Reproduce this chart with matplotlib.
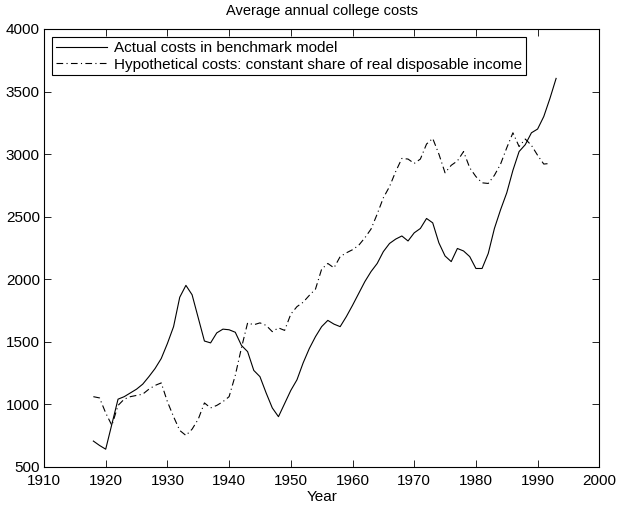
import numpy as np
import matplotlib
matplotlib.use("Agg")
from matplotlib import pyplot as plt

plt.rcParams['font.family'] = ['Liberation Sans', 'DejaVu Sans']
plt.rcParams['font.size'] = 11

# annual costs, benchmark model
years_actual = np.arange(1918, 1994)
actual = [705, 670, 640, 840, 1040, 1060, 1090, 1120, 1160, 1220,
          1285, 1365, 1485, 1620, 1855, 1950, 1875, 1690, 1505, 1490,
          1570, 1600, 1595, 1575, 1470, 1420, 1270, 1220, 1090, 970,
          900, 1005, 1110, 1195, 1330, 1445, 1540, 1620, 1670, 1640,
          1620, 1700, 1790, 1885, 1980, 2060, 2125, 2220, 2285, 2320,
          2345, 2305, 2370, 2405, 2485, 2450, 2290, 2185, 2140, 2245,
          2225, 2180, 2085, 2085, 2205, 2405, 2555, 2690, 2870, 3020,
          3075, 3170, 3200, 3300, 3445, 3605]

# costs if they kept a constant share of real disposable income
years_hypo = np.arange(1918, 1993)
hypo = [1060, 1050, 930, 830, 990, 1040, 1060, 1070, 1080, 1120,
        1150, 1170, 1020, 900, 790, 750, 800, 880, 1010, 970,
        990, 1020, 1060, 1230, 1450, 1650, 1635, 1650, 1630, 1580,
        1610, 1590, 1720, 1780, 1815, 1870, 1920, 2080, 2125, 2090,
        2180, 2210, 2235, 2270, 2330, 2400, 2520, 2650, 2740, 2860,
        2965, 2960, 2925, 2960, 3080, 3125, 3000, 2850, 2910, 2945,
        3020, 2890, 2820, 2770, 2765, 2830, 2920, 3050, 3170, 3060,
        3120, 3070, 2990, 2920, 2925]

fig = plt.figure(figsize=(6.18, 5.08), dpi=100)
ax = fig.add_axes([44/618, 1-466.7/508, (599.3-44)/618, (466.7-29)/508])

ax.plot(years_actual, actual, 'k-', lw=0.8,
        label='Actual costs in benchmark model')
ax.plot(years_hypo, hypo, 'k', lw=0.8, dashes=[6, 3, 1, 3],
        label='Hypothetical costs: constant share of real disposable income')

ax.set_xlim(1910, 2000)
ax.set_ylim(500, 4000)
ax.set_xticks(np.arange(1910, 2001, 10))
ax.set_yticks(np.arange(500, 4001, 500))
ax.tick_params(direction='in', top=True, right=True, length=5, width=0.6)
ax.tick_params(axis='x', pad=5)
ax.tick_params(axis='y', pad=3)
for s in ax.spines.values():
    s.set_linewidth(0.8)

ax.set_title('Average annual college costs', fontsize=10.5, pad=10)
ax.set_xlabel('Year', labelpad=2)

leg = ax.legend(loc='upper left', fancybox=False, edgecolor='k',
                borderaxespad=0.55, handlelength=3.3, handletextpad=0.5,
                borderpad=0.25, labelspacing=0.15, framealpha=1)
leg.get_frame().set_linewidth(0.8)

fig.savefig('out.png', dpi=100)
